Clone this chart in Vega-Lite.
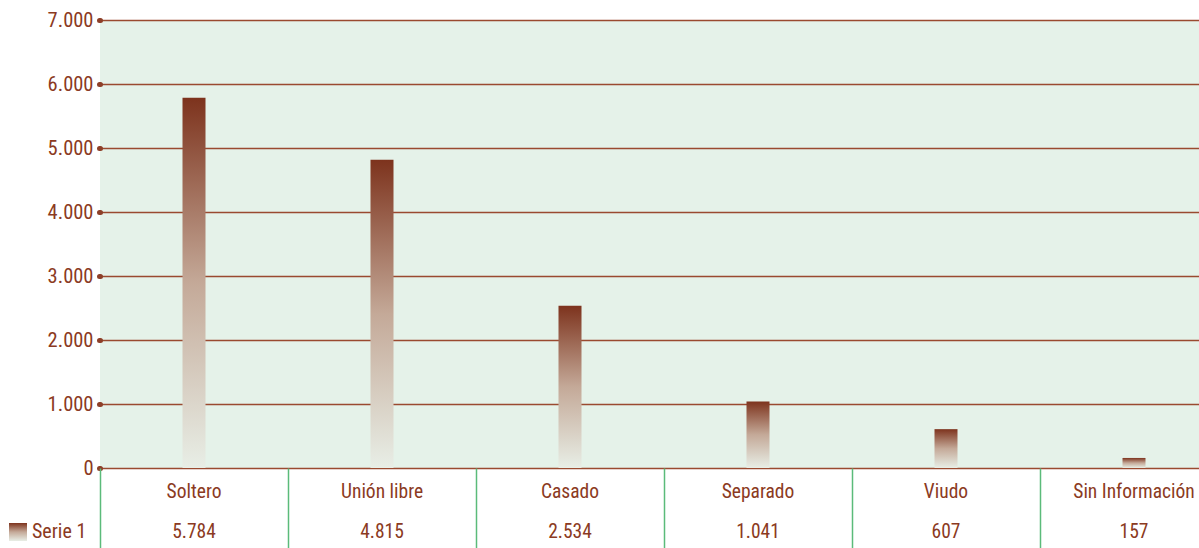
{
  "$schema": "https://vega.github.io/schema/vega-lite/v6.json",
  "padding": {"left": 8, "top": 10, "right": 0, "bottom": 0},
  "spacing": 0,
  "bounds": "flush",
  "background": "white",
  "config": {
    "locale": {"number": {"decimal": ",", "thousands": ".", "grouping": [3], "currency": ["$", ""]}},
    "font": "Roboto Condensed, Liberation Sans Narrow, DejaVu Sans Condensed, sans-serif",
    "view": {"stroke": null},
    "concat": {"spacing": 0}
  },
  "data": {"values": [
    {"estado": "Soltero", "valor": 5784},
    {"estado": "Unión libre", "valor": 4815},
    {"estado": "Casado", "valor": 2534},
    {"estado": "Separado", "valor": 1041},
    {"estado": "Viudo", "valor": 607},
    {"estado": "Sin Información", "valor": 157}
  ]},
  "vconcat": [
    {
      "width": 1099,
      "height": 448,
      "view": {"fill": "#e5f2e9", "stroke": null},
      "mark": {"type": "bar", "size": 23,
               "color": {"gradient": "linear", "x1": 0, "y1": 0, "x2": 0, "y2": 1,
                 "stops": [{"offset": 0, "color": "#7d331d"}, {"offset": 0.5, "color": "#c4a998"}, {"offset": 1, "color": "#e8eee6"}]}},
      "encoding": {
        "x": {"field": "estado", "type": "nominal", "sort": null,
              "scale": {"range": [0, 1128], "paddingInner": 0, "paddingOuter": 0},
              "axis": null},
        "y": {"field": "valor", "type": "quantitative",
              "scale": {"domain": [0, 7000], "nice": false},
              "axis": {"values": [0, 1000, 2000, 3000, 4000, 5000, 6000, 7000],
                       "format": ",d", "title": null, "domain": false,
                       "grid": true, "gridColor": "#9a4a30", "gridWidth": 1.3,
                       "ticks": true, "tickSize": 1, "tickWidth": 5, "tickCap": "round", "tickColor": "#8d3f28",
                       "labelFontSize": 20.5, "labelColor": "#8b3a22", "labelPadding": 6}},
        "opacity": {"datum": "Serie 1", "type": "ordinal",
                  "scale": {"range": [1]},
                  "legend": {"orient": "none", "legendX": -92, "legendY": 502, "title": null,
                             "symbolType": "square", "symbolSize": 324, "symbolStrokeWidth": 0,
                             "labelFontSize": 20, "labelColor": "#8b3a22", "labelOffset": 4,
                             "encode": {"symbols": {"update": {
                               "fill": {"value": {"gradient": "linear", "x1": 0, "y1": 0, "x2": 0, "y2": 1,
                                 "stops": [{"offset": 0, "color": "#7d331d"}, {"offset": 0.5, "color": "#c2a593"}, {"offset": 1, "color": "#e8eee6"}]}},
                               "opacity": {"value": 1},
                               "strokeWidth": {"value": 0}}}}}}
      }
    },
    {
      "width": 1099,
      "height": 80,
      "layer": [
        {
          "mark": {"type": "text", "fontSize": 19.5, "color": "#8b3a22", "dy": 4},
          "encoding": {
            "x": {"field": "estado", "type": "nominal", "sort": null,
                  "scale": {"range": [0, 1128], "paddingInner": 0, "paddingOuter": 0},
                  "axis": {"grid": true, "gridColor": "#5bbb7a", "gridWidth": 1.5, "tickBand": "extent",
                           "labels": false, "ticks": false, "domain": false, "title": null}},
            "y": {"datum": "cat", "type": "ordinal",
                  "scale": {"domain": ["cat", "val"], "type": "point", "padding": 0.5},
                  "axis": null},
            "text": {"field": "estado"}
          }
        },
        {
          "mark": {"type": "text", "fontSize": 19.5, "color": "#8b3a22", "dy": 4},
          "encoding": {
            "x": {"field": "estado", "type": "nominal", "sort": null},
            "y": {"datum": "val", "type": "ordinal"},
            "text": {"field": "valor", "type": "quantitative", "format": ",d"}
          }
        }
      ]
    }
  ]
}
